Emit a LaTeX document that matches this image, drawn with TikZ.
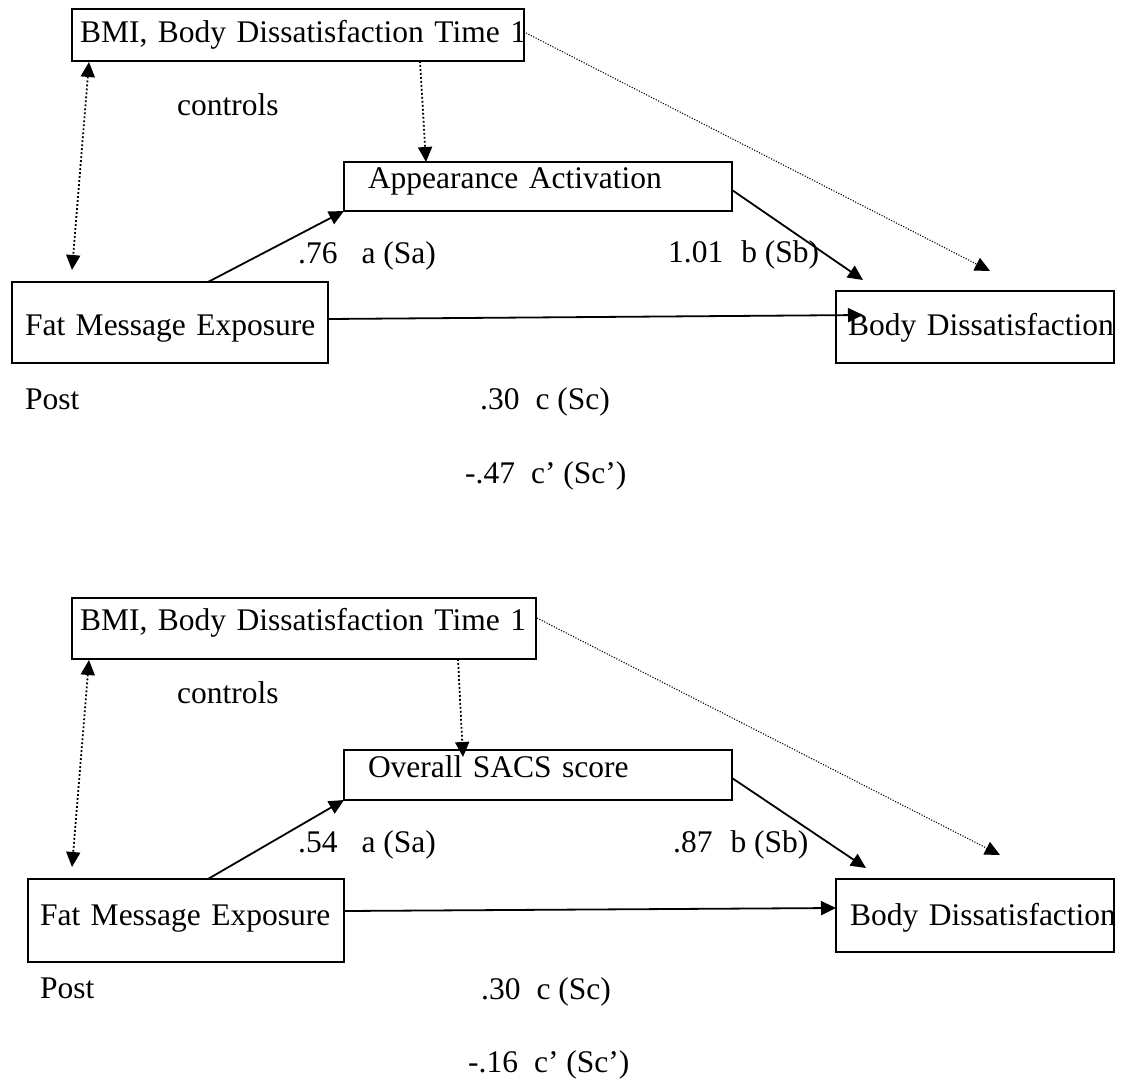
\documentclass[tikz,border=0pt]{standalone}
\usepackage{fontspec}
\setmainfont{Liberation Serif}
\usetikzlibrary{arrows.meta,positioning,calc}

\tikzset{
  box/.style={draw, line width=1.6pt, anchor=north west, inner ysep=0pt, outer sep=0pt, align=left},
  lbl/.style={anchor=base west, inner sep=0pt},
  effect/.style={line width=1.8pt, ->},
  ctrl/.style={line width=1.8pt, dash pattern=on 1.8pt off 2.2pt, ->},
  ctrlthin/.style={line width=1.1pt, dash pattern=on 1.1pt off 1.6pt, ->},
}

\begin{document}
\begin{tikzpicture}[x=1pt, y=-1pt, >={Triangle[length=15pt,width=14pt]},
  font=\fontsize{31.5}{37}\selectfont]
\useasboundingbox (0,0) rectangle (1125,1082);

% Upper model (appearance activation)
\node[box, inner xsep=8pt, text width=436pt, text height=33pt, text depth=19pt] (bmi1) at (72,9) {\mbox{BMI, Body Dissatisfaction Time 1}};
\node[box, inner xsep=24pt, text width=340pt, text height=26pt, text depth=23pt] (app1) at (344,162) {Appearance Activation};
\node[box, inner xsep=13pt, text width=290pt, text height=53pt, text depth=28pt] (fat1) at (12,282) {\mbox{Fat Message Exposure}};
\node[box, inner xsep=12pt, text width=254pt, text height=44pt, text depth=28pt] (body1) at (836,291) {\mbox{Body Dissatisfaction}};

\node[lbl] (ctl1) at (177,115) {controls};
\node[lbl] (a1) at (298,263) {.76\hspace{24pt}a (Sa)};
\node[lbl] (b1) at (668,262) {1.01\hspace{18pt}b (Sb)};
\node[lbl] (post1) at (25,409) {Post};
\node[lbl] (c1) at (480,409) {.30\hspace{16pt}c (Sc)};
\node[lbl] (cp1) at (465,483) {-.47\hspace{16pt}c' (Sc')};

\draw[ctrl, <->] ($(bmi1.south west)+(17,1)$) -- ($(fat1.north west)+(60,-12)$);
\draw[ctrl] ($(bmi1.south west)+(348,0)$) -- ($(app1.north west)+(82,0)$);
\draw[ctrlthin] ($(bmi1.north east)+(2,24)$) -- ($(body1.north west)+(154,-20)$);
\draw[effect] ($(fat1.north west)+(196,0)$) -- (app1.south west);
\draw[effect] ($(app1.north east)+(0,28)$) -- ($(body1.north west)+(27,-11)$);
\draw[effect] ($(fat1.north east)+(0,37)$) -- ($(body1.north west)+(27,24)$);

% Lower model (overall SACS score)
\node[box, inner xsep=8pt, text width=448pt, text height=32pt, text depth=29pt] (bmi2) at (72,598) {\mbox{BMI, Body Dissatisfaction Time 1}};
\node[box, inner xsep=24pt, text width=340pt, text height=27pt, text depth=23pt] (app2) at (344,750) {Overall SACS score};
\node[box, inner xsep=12pt, text width=292pt, text height=46pt, text depth=37pt] (fat2) at (28,879) {\mbox{Fat Message Exposure}};
\node[box, inner xsep=14pt, text width=250pt, text height=46pt, text depth=27pt] (body2) at (836,879) {\mbox{Body Dissatisfaction}};

\node[lbl] (ctl2) at (177,703) {controls};
\node[lbl] (a2) at (298,852) {.54\hspace{24pt}a (Sa)};
\node[lbl] (b2) at (673,852) {.87\hspace{18pt}b (Sb)};
\node[lbl] (post2) at (40,998) {Post};
\node[lbl] (c2) at (481,999) {.30\hspace{16pt}c (Sc)};
\node[lbl] (cp2) at (468,1072) {-.16\hspace{16pt}c' (Sc')};

\draw[ctrl, <->] ($(bmi2.south west)+(17,1)$) -- ($(fat2.north west)+(44,-12)$);
\draw[ctrl] ($(bmi2.south west)+(386,0)$) -- ($(app2.north west)+(119,7)$);
\draw[ctrlthin] ($(bmi2.north east)+(1,20)$) -- ($(body2.north west)+(164,-24)$);
\draw[effect] ($(fat2.north west)+(180,0)$) -- (app2.south west);
\draw[effect] ($(app2.north east)+(0,28)$) -- ($(body2.north west)+(30,-11)$);
\draw[effect] ($(fat2.north east)+(0,32)$) -- ($(body2.north west)+(0,29)$);
\end{tikzpicture}
\end{document}
